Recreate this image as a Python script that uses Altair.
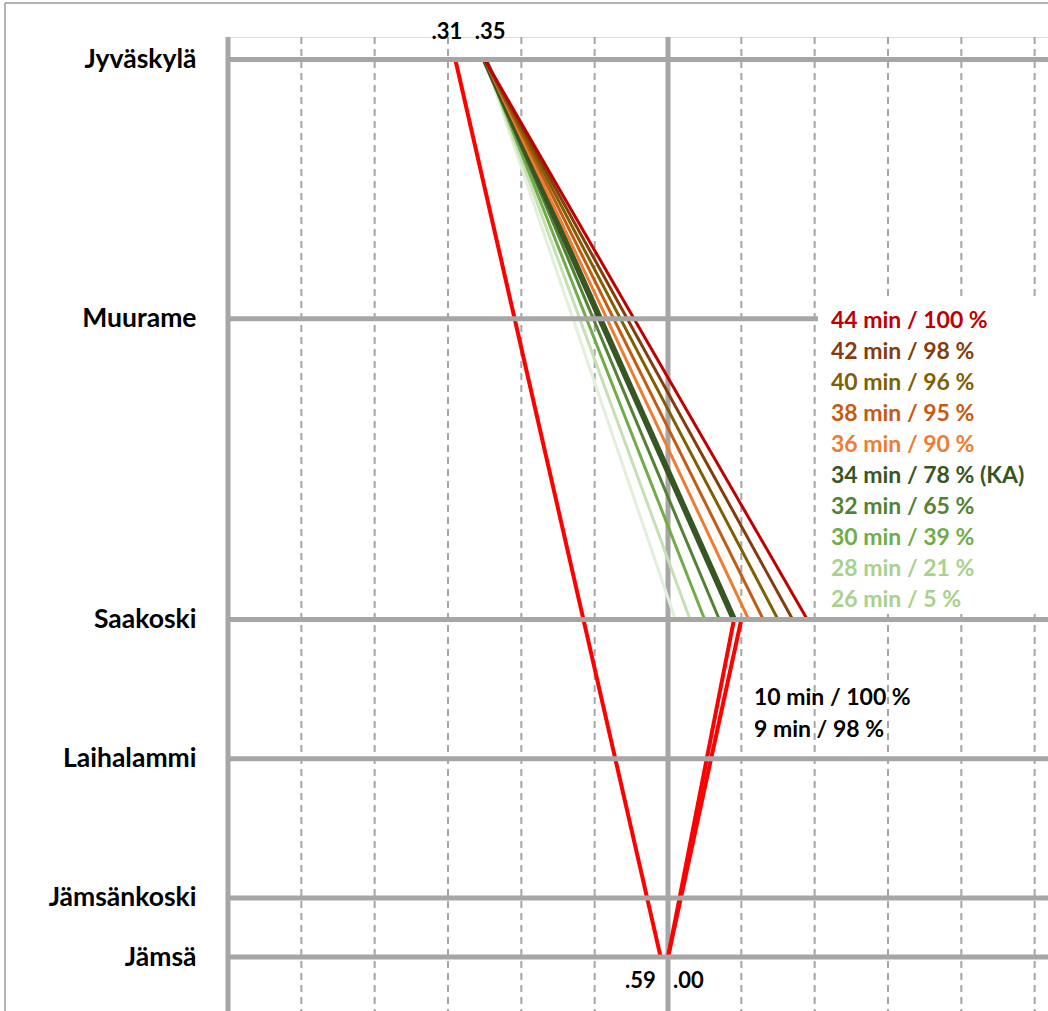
import altair as alt
import pandas as pd

# ---------------- data ----------------
stations = ["Jyväskylä", "Muurame", "Saakoski", "Laihalammi", "Jämsänkoski", "Jämsä"]
station_km = [0.0, 16.2, 35.0, 43.7, 52.4, 56.1]

# Jyväskylä (.35) -> Saakoski runs
run_depart = 35
run_minutes = [26, 28, 30, 32, 34, 36, 38, 40, 42, 44]
run_labels = ["26 min / 5 %", "28 min / 21 %", "30 min / 39 %", "32 min / 65 %",
              "34 min / 78 % (KA)", "36 min / 90 %", "38 min / 95 %", "40 min / 96 %",
              "42 min / 98 %", "44 min / 100 %"]
run_line_colors = ["#e2efda", "#c5e0b4", "#70ad47", "#548235", "#375623",
                   "#ed7d31", "#c55a11", "#7f6000", "#843c0c", "#c00000"]
run_text_colors = ["#a9d18e", "#a9d18e", "#70ad47", "#548235", "#375623",
                   "#ed7d31", "#c55a11", "#7f6000", "#843c0c", "#c00000"]
run_widths = [3, 3, 3, 3, 6, 3, 3, 3, 3, 3]

# Express Jyväskylä .31 -> Jämsä .59
express_times = [31, 59]
express_km = [0.0, 56.1]

# Jämsä .00 -> Saakoski runs
back_depart = 60
back_minutes = [10, 9]
back_labels = ["10 min / 100 %", "9 min / 98 %"]

time_labels = [".31", ".35", ".59", ".00"]
time_label_t = [31, 35, 59, 60]
time_label_km = [0.0, 0.0, 56.1, 56.1]

grid_solid = [0, 60]
grid_dashed = [10, 20, 30, 40, 50, 70, 80, 90, 100, 110]

# ---------------- scales ----------------
W, H = 820, 974
xs = alt.Scale(domain=[0, 111.82], nice=False, zero=False)
ys = alt.Scale(domain=[-1.406, 59.47], nice=False, zero=False, reverse=True)
GRAY = "#a6a6a6"
FONT = "Lato"
FS = 23

label_expr = " : ".join(f"datum.value == {k} ? '{n}'" for n, k in zip(stations, station_km)) + " : ''"
YAX = alt.Axis(values=station_km, labelExpr=label_expr, domain=False, ticks=False, tickSize=0,
               grid=False, labelPadding=32, labelFont=FONT, labelFontWeight="bold",
               labelFontSize=26.5, labelColor="black", title=None, labelAlign="right",
               labelBaseline="middle")

one = pd.DataFrame({"a": [0]})

# vertical grid
dashed = alt.Chart(pd.DataFrame({"t": grid_dashed})).mark_rule(
    color=GRAY, strokeWidth=2, strokeDash=[7, 5]).encode(x=alt.X("t:Q", scale=xs, axis=None))
solid = alt.Chart(pd.DataFrame({"t": grid_solid})).mark_rule(
    color=GRAY, strokeWidth=5).encode(x=alt.X("t:Q", scale=xs, axis=None))

layers = [dashed, solid]

# express & back lines (red)
red_rows = [{"id": "exp", "t": t, "km": k} for t, k in zip(express_times, express_km)]
for lab, m in zip(back_labels, back_minutes):
    red_rows.append({"id": lab, "t": back_depart, "km": station_km[5]})
    red_rows.append({"id": lab, "t": back_depart + m, "km": station_km[2]})
red = alt.Chart(pd.DataFrame(red_rows)).mark_line(color="#ff0000", strokeWidth=4).encode(
    x=alt.X("t:Q", scale=xs, axis=None),
    y=alt.Y("km:Q", scale=ys, axis=YAX),
    detail="id:N", order="km:Q")
layers.append(red)

# Jyväskylä -> Saakoski runs
for m, lab, c, w in zip(run_minutes, run_labels, run_line_colors, run_widths):
    df = pd.DataFrame({"t": [run_depart, run_depart + m], "km": [station_km[0], station_km[2]]})
    layers.append(alt.Chart(df).mark_line(color=c, strokeWidth=w).encode(
        x=alt.X("t:Q", scale=xs, axis=None),
        y=alt.Y("km:Q", scale=ys, axis=YAX)))

# station lines with axis labels
st = alt.Chart(pd.DataFrame({"station": stations, "km": station_km})).mark_rule(
    color=GRAY, strokeWidth=5).encode(y=alt.Y("km:Q", scale=ys, axis=YAX))
layers.append(st)

# white legend box
box = alt.Chart(one).mark_rect(color="white").encode(
    x=alt.value(590), x2=alt.value(W), y=alt.value(262), y2=alt.value(577))
layers.append(box)

# time labels
offsets = [(7, -27, "right"), (-10, -27, "left"), (-5, 24, "right"), (5, 24, "left")]
for lab, t, k, (dx, dy, al) in zip(time_labels, time_label_t, time_label_km, offsets):
    layers.append(alt.Chart(pd.DataFrame({"lab": [lab], "t": [t], "km": [k]})).mark_text(
        font=FONT, fontWeight="bold", fontSize=22, color="black", align=al,
        baseline="middle", dx=dx, dy=dy).encode(
        x=alt.X("t:Q", scale=xs, axis=None), y=alt.Y("km:Q", scale=ys, axis=YAX),
        text="lab:N"))

# legend text (Jyväskylä -> Saakoski), top row = 44 min
for i, (lab, c) in enumerate(zip(run_labels[::-1], run_text_colors[::-1])):
    layers.append(alt.Chart(pd.DataFrame({"lab": [lab]})).mark_text(
        font=FONT, fontWeight="bold", fontSize=FS, color=c, align="left",
        baseline="middle").encode(x=alt.value(603), y=alt.value(284 + 31 * i), text="lab:N"))

for i, lab in enumerate(back_labels):
    layers.append(alt.Chart(pd.DataFrame({"lab": [lab]})).mark_text(
        font=FONT, fontWeight="bold", fontSize=FS, color="black", align="left",
        baseline="middle").encode(x=alt.value(526), y=alt.value(661 + 32 * i), text="lab:N"))

# outer frame (left & top)
layers.append(alt.Chart(one).mark_rule(color="#9a9a9a", strokeWidth=1.5).encode(
    x=alt.value(-223), y=alt.value(-34), y2=alt.value(H)))
layers.append(alt.Chart(one).mark_rule(color="#9a9a9a", strokeWidth=1.5).encode(
    x=alt.value(-223), x2=alt.value(W), y=alt.value(-34)))

chart = alt.layer(*layers).properties(
    width=W, height=H,
    autosize=alt.AutoSizeParams(type="none"),
    padding={"left": 228, "top": 37, "right": 0, "bottom": 0},
).configure_view(stroke=None).configure(background="white")

chart.save("out.html", embed_options={"renderer": "svg", "actions": False})
